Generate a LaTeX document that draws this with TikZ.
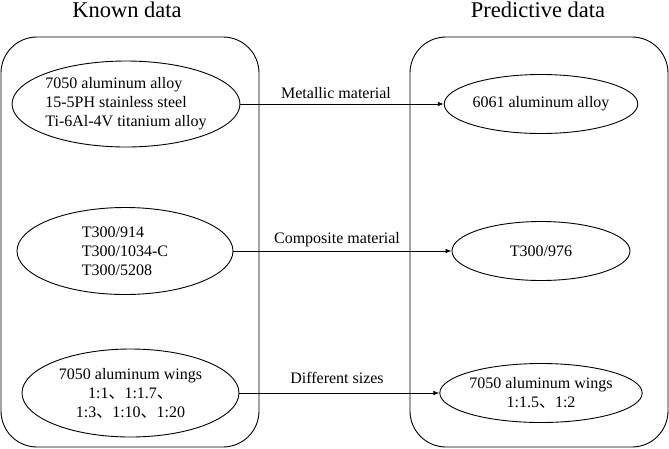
\documentclass[tikz,border=0pt]{standalone}
\usepackage{fontspec}
\setmainfont{Liberation Serif}
\newfontfamily\cjkfont{Noto Sans CJK SC}
\usetikzlibrary{shapes.geometric,arrows.meta}
\newcommand{\dun}{{\cjkfont 、}}
\tikzset{
  panel/.style={draw, line width=0.9pt, rounded corners=36pt},
  ell/.style={draw, ellipse, line width=0.9pt, inner sep=0pt, font=\fontsize{16}{19}\selectfont},
  title/.style={font=\fontsize{22.5}{26}\selectfont, anchor=base},
  lbl/.style={font=\fontsize{16}{19}\selectfont},
  conn/.style={line width=0.7pt, -{Latex[length=6pt,width=4.5pt]}}
}
\begin{document}
\begin{tikzpicture}[x=1pt,y=-1pt]
\useasboundingbox (0,0) rectangle (669,448);
% panels
\draw[panel] (1,37) rectangle (259,447);
\draw[panel] (410,37) rectangle (668,447);
% titles
\node[title] (tk) at (127,17.5) {Known data};
\node[title] (tp) at (538,17.5) {Predictive data};
% left ellipses
\node[ell, minimum width=217pt, minimum height=86pt, align=left] (k1) at (126,104)
  {7050 aluminum alloy\\15-5PH stainless steel\\Ti-6Al-4V titanium alloy};
\node[ell, minimum width=216pt, minimum height=87pt, align=left] (k2) at (125,251)
  {T300/914\\T300/1034-C\\T300/5208};
\node[ell, minimum width=217pt, minimum height=88pt, align=center] (k3) at (130.5,393)
  {7050 aluminum wings\\1:1\dun 1:1.7\dun\\1:3\dun 1:10\dun 1:20};
% right ellipses
\node[ell, minimum width=179pt, minimum height=59pt] (p1) at (541,104) {6061 aluminum alloy};
\node[ell, minimum width=178pt, minimum height=59pt] (p2) at (541,251) {T300/976};
\node[ell, minimum width=179pt, minimum height=59pt, align=center] (p3) at (541,393)
  {7050 aluminum wings\\1:1.5\dun 1:2};
% connectors
\draw[conn] (k1.east) -- (p1.west);
\draw[conn] (k2.east) -- (p2.west);
\draw[conn] (k3.east) -- (p3.west);
% labels
\node[lbl] (l1) at (336,93) {Metallic material};
\node[lbl] (l2) at (337,240) {Composite material};
\node[lbl] (l3) at (337,378) {Different sizes};
\end{tikzpicture}
\end{document}
